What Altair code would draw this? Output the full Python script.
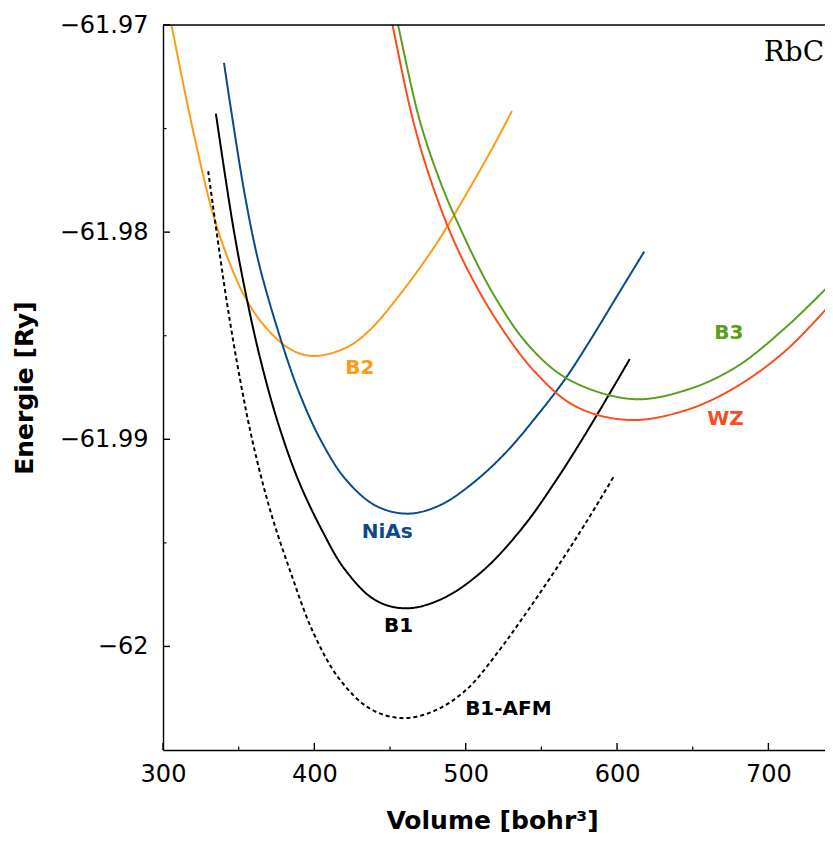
import altair as alt
import pandas as pd

# ---- data (volume in bohr^3, energy in Ry) ----
B2_x = [303.0, 305.55, 319.82, 333.10, 344.33, 355.63, 368.91, 384.57, 399.57, 421.18, 436.57,
        458.57, 480.64, 502.64, 520.28, 530.59]
B2_y = [-61.9691, -61.9700, -61.97508, -61.97913, -61.98154, -61.98333, -61.98468, -61.98567,
        -61.98598, -61.98557, -61.98473, -61.98282, -61.98056, -61.97788, -61.97559, -61.97415]

NiAs_x = [340.30, 344.20, 354.77, 364.16, 379.42, 391.25, 404.66, 420.32, 440.40, 461.68, 482.82,
          504.82, 526.89, 546.71, 565.41, 581.93, 599.57, 617.94]
NiAs_y = [-61.97183, -61.97373, -61.97849, -61.98174, -61.98555, -61.98798, -61.99010, -61.99190,
          -61.99320, -61.99359, -61.99319, -61.99211, -61.99061, -61.98890, -61.98712, -61.98526,
          -61.98314, -61.98094]

B1_x = [334.95, 346.58, 355.50, 364.49, 375.65, 389.00, 404.66, 420.32, 440.40, 461.02, 485.00,
        511.43, 537.86, 559.93, 581.93, 608.36]
B1_y = [-61.97428, -61.97983, -61.98326, -61.98618, -61.98913, -61.99190, -61.99434, -61.99630,
        -61.99777, -61.99816, -61.99768, -61.99634, -61.99424, -61.99196, -61.98941, -61.98613]

AFM_x = [329.86, 341.69, 350.74, 359.86, 371.16, 384.70, 399.11, 416.42, 436.84, 457.71, 478.39,
         500.46, 522.47, 535.68, 548.89, 562.11, 575.32, 586.36, 598.45]
AFM_y = [-61.97706, -61.98314, -61.98704, -61.99032, -61.99351, -61.99650, -61.99930, -62.00156,
         -62.00301, -62.00346, -62.00314, -62.00209, -62.00016, -61.99883, -61.99744, -61.99600,
         -61.99450, -61.99320, -61.99172]

WZ_x = [448.3, 451.6, 465.2, 478.4, 496.0, 520.3, 546.7, 573.1, 608.4, 645.8, 678.9, 711.9, 742.5]
WZ_y = [-61.9689, -61.9700, -61.9746, -61.97781, -61.98103, -61.98425, -61.98682, -61.98843, -61.98907,
        -61.98859, -61.98746, -61.98569, -61.98336]

B3_x = [452.0, 455.3, 469.6, 482.8, 493.9, 518.0, 542.3, 568.7, 610.5, 645.8, 678.9, 711.9, 742.5]
B3_y = [-61.9689, -61.9700, -61.9746, -61.97749, -61.97942, -61.98296, -61.98553, -61.98714, -61.98806,
        -61.98762, -61.9865, -61.98457, -61.9824]

series_names = ["B2", "NiAs", "B1", "B1-AFM", "B3", "WZ"]
series_colors = ["#FF9A14", "#0A4A8C", "#000000", "#000000", "#5A9E1E", "#FF4A1A"]

label_x = [430.0, 448.1, 455.6, 528.2, 673.9, 671.6]
label_y = [-61.98654, -61.99446, -61.9990, -62.0030, -61.98485, -61.98903]

x_major = [300, 400, 500, 600, 700]
x_minor = [350, 450, 550, 650]
y_major = [-61.97, -61.98, -61.99, -62.0]
y_minor = [-61.975, -61.985, -61.995]

X_DOMAIN = [300, 737.4]
Y_DOMAIN = [-62.005, -61.97]
W, H = 662, 725

# ---- build tables ----
rows = []
for name, xs_, ys_ in [("B2", B2_x, B2_y), ("NiAs", NiAs_x, NiAs_y), ("B1", B1_x, B1_y),
                       ("B1-AFM", AFM_x, AFM_y), ("B3", B3_x, B3_y), ("WZ", WZ_x, WZ_y)]:
    for i, (xv, yv) in enumerate(zip(xs_, ys_)):
        rows.append({"series": name, "V": xv, "E": yv, "i": i,
                     "dash": "dot" if name == "B1-AFM" else "solid"})
df = pd.DataFrame(rows)

labels = pd.DataFrame({"series": series_names, "V": label_x, "E": label_y})

xs = alt.Scale(domain=X_DOMAIN, nice=False, zero=False)
ys = alt.Scale(domain=Y_DOMAIN, nice=False, zero=False)
color_scale = alt.Scale(domain=series_names, range=series_colors)

lines = alt.Chart(df).mark_line(strokeWidth=2, clip=True, interpolate="catmull-rom").encode(
    x=alt.X("V:Q", scale=xs,
            axis=alt.Axis(values=x_major, title="Volume [bohr³]", ticks=False, labelFlush=False,
                          labelPadding=12, labelFontSize=24, labelFont="DejaVu Sans",
                          labelColor="black", titleFontSize=25, titleFont="DejaVu Sans",
                          titleFontWeight="bold", titleColor="black", titleX=329,
                          titleY=78, titleBaseline="alphabetic", domainColor="black",
                          domainWidth=1.4, grid=False)),
    y=alt.Y("E:Q", scale=ys,
            axis=alt.Axis(values=y_major, title="Energie [Ry]", ticks=False, labelFlush=False,
                          labelPadding=15, labelFontSize=24, labelFont="DejaVu Sans",
                          labelColor="black",
                          labelExpr="datum.value < -61.995 ? '−62' : '−' + format(-datum.value, '.2f')",
                          titleFontSize=25, titleFont="DejaVu Sans", titleFontWeight="bold",
                          titleColor="black", titleX=-139, titleY=H / 2, titleAngle=270,
                          titleAlign="center", titleBaseline="middle",
                          domainColor="black", domainWidth=1.4, grid=False)),
    color=alt.Color("series:N", scale=color_scale, legend=None),
    strokeDash=alt.StrokeDash("dash:N", scale=alt.Scale(domain=["solid", "dot"],
                                                        range=[[1, 0], [4, 3]]), legend=None),
    detail="series:N",
    order="i:Q",
)

text = alt.Chart(labels).mark_text(font="DejaVu Sans", fontWeight="bold", fontSize=20,
                                   align="center", baseline="middle").encode(
    x=alt.X("V:Q", scale=xs), y=alt.Y("E:Q", scale=ys),
    text="series:N",
    color=alt.Color("series:N", scale=color_scale, legend=None),
)

title_df = pd.DataFrame({"V": [736.8], "E": [-61.97175], "t": ["RbC"]})
title_txt = alt.Chart(title_df).mark_text(font="DejaVu Serif", fontSize=28, align="right",
                                          baseline="alphabetic", color="black").encode(
    x=alt.X("V:Q", scale=xs), y=alt.Y("E:Q", scale=ys), text="t:N")

xmaj = alt.Chart(pd.DataFrame({"V": x_major})).mark_rule(color="black", strokeWidth=1.4).encode(
    x=alt.X("V:Q", scale=xs), y=alt.value(H), y2=alt.value(H - 7))
xmin = alt.Chart(pd.DataFrame({"V": x_minor})).mark_rule(color="black", strokeWidth=1.2).encode(
    x=alt.X("V:Q", scale=xs), y=alt.value(H), y2=alt.value(H - 3.5))
ymaj = alt.Chart(pd.DataFrame({"E": y_major})).mark_rule(color="black", strokeWidth=1.4).encode(
    y=alt.Y("E:Q", scale=ys), x=alt.value(0), x2=alt.value(7))
ymin = alt.Chart(pd.DataFrame({"E": y_minor})).mark_rule(color="black", strokeWidth=1.2).encode(
    y=alt.Y("E:Q", scale=ys), x=alt.value(0), x2=alt.value(3.5))
top = alt.Chart(pd.DataFrame({"a": [0]})).mark_rule(color="black", strokeWidth=1.4).encode(
    x=alt.value(0), x2=alt.value(W), y=alt.value(0))

chart = alt.layer(lines, text, title_txt, xmaj, xmin, ymaj, ymin, top).properties(
    width=W, height=H,
    padding={"left": 155, "top": 17, "right": 0, "bottom": 83},
    autosize=alt.AutoSizeParams(type="none"),
    background="white",
).configure_view(stroke=None)

chart.save("out.html", embed_options={"renderer": "svg", "actions": False})
